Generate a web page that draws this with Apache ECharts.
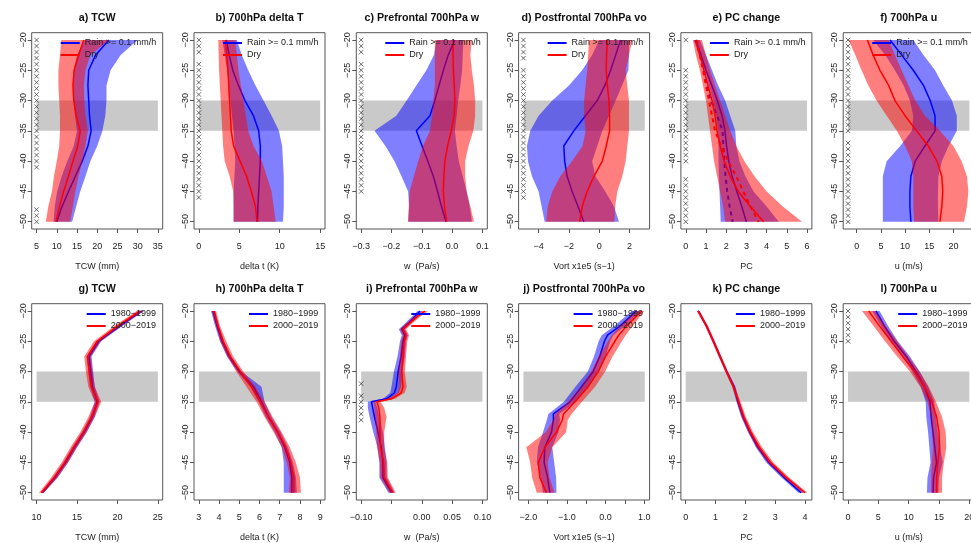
<!DOCTYPE html>
<html>
<head>
<meta charset="utf-8">
<script src="https://cdn.jsdelivr.net/npm/echarts@6/dist/echarts.min.js"></script>
<style>html,body{margin:0;padding:0;background:#fff}#main{width:971px;height:543px}</style>
</head>
<body>
<div id="main"></div>
<script>
// latitude levels (y axis)
const LAT = [-20, -22.5, -25, -27.5, -30, -32.5, -35, -37.5, -40, -42.5, -45, -47.5, -50];
const LAT_I = [-20, -21, -22, -23, -24, -25, -27.5, -30, -32.5, -33.5, -34.5, -35, -36, -37.5, -40, -42.5, -45, -47.5, -50];
const LAT_J = [-20, -22.5, -24, -25, -27.5, -30, -32.5, -35, -37, -38, -40, -42.5, -45, -47.5, -50];
const Y_TICKS = [-20, -25, -30, -35, -40, -45, -50];
const SHADE = [-30, -35];

const TOP_NAMES = ["Rain >= 0.1 mm/h", "Dry"];
const BOTTOM_NAMES = ["1980\u22121999", "2000\u22122019"];

// a) TCW
const A_RAIN = [22.9, 19.6, 17.9, 17.7, 17.9, 18.1, 18.5, 17.7, 16.3, 14.6, 12.9, 11.3, 10.0];
const A_RAIN_LO = [17.0, 15.0, 14.2, 14.0, 14.2, 14.5, 15.0, 14.2, 12.6, 11.2, 10.1, 9.5, 9.2];
const A_RAIN_HI = [30.0, 25.8, 23.3, 22.3, 22.3, 22.0, 21.3, 20.0, 18.3, 17.1, 15.8, 14.8, 13.8];
const A_DRY = [16.7, 15.4, 14.3, 14.0, 14.2, 14.8, 15.8, 15.2, 14.0, 12.9, 11.7, 10.7, 9.8];
const A_DRY_LO = [11.1, 10.8, 10.4, 10.4, 10.6, 10.8, 10.8, 10.6, 10.0, 9.3, 8.8, 7.9, 7.3];
const A_DRY_HI = [23.0, 18.3, 17.1, 16.7, 16.8, 17.1, 17.7, 17.1, 16.3, 15.4, 14.6, 14.0, 13.3];
const A_MARKS = [[-20, -41], [-48, -50]];

// b) 700hPa delta T
const B_RAIN = [3.4, 3.75, 4.2, 4.9, 5.7, 6.75, 7.4, 7.6, 7.6, 7.5, 7.4, 7.3, 7.25];
const B_RAIN_LO = [2.9, 3.2, 3.5, 3.7, 3.9, 4.1, 4.3, 4.4, 4.5, 4.4, 4.3, 4.3, 4.3];
const B_RAIN_HI = [4.7, 5.3, 6.1, 7.0, 8.0, 9.0, 9.9, 10.3, 10.4, 10.5, 10.5, 10.5, 10.4];
const B_DRY = [3.3, 3.45, 3.6, 3.7, 3.8, 3.9, 4.0, 4.3, 5.1, 5.9, 6.5, 7.0, 7.2];
const B_DRY_LO = [2.4, 2.45, 2.5, 2.6, 2.7, 2.8, 2.9, 3.0, 3.2, 3.8, 4.25, 4.3, 4.3];
const B_DRY_HI = [4.5, 4.7, 4.9, 5.2, 5.5, 5.8, 6.1, 6.75, 7.8, 8.4, 9.0, 9.25, 9.5];
const B_MARKS = [[-20, -22], [-24, -46]];

// c) Prefrontal 700hPa w
const C_RAIN = [0.009, -0.013, -0.029, -0.043, -0.057, -0.073, -0.118, -0.099, -0.080, -0.062, -0.048, -0.035, -0.020];
const C_RAIN_LO = [-0.051, -0.060, -0.085, -0.118, -0.150, -0.184, -0.256, -0.220, -0.190, -0.167, -0.145, -0.142, -0.145];
const C_RAIN_HI = [0.037, 0.035, 0.033, 0.027, 0.020, 0.015, 0.009, 0.015, 0.022, 0.035, 0.048, 0.058, 0.065];
const C_DRY = [0.004, 0.003, 0.004, 0.007, 0.009, 0.007, -0.003, -0.015, -0.024, -0.027, -0.029, -0.025, -0.018];
const C_DRY_LO = [-0.057, -0.057, -0.057, -0.057, -0.062, -0.066, -0.073, -0.096, -0.112, -0.126, -0.140, -0.143, -0.145];
const C_DRY_HI = [0.065, 0.060, 0.065, 0.072, 0.076, 0.076, 0.070, 0.054, 0.043, 0.043, 0.048, 0.060, 0.072];
const C_MARKS = [[-20, -22], [-24, -45]];

// d) Postfrontal 700hPa vo
const D_RAIN = [1.41, 1.08, 0.75, 0.37, -0.13, -0.91, -1.68, -2.34, -2.28, -2.12, -1.79, -1.40, -1.02];
const D_RAIN_LO = [0.0, -0.47, -1.13, -2.0, -3.1, -4.0, -4.55, -4.77, -4.7, -4.44, -4.0, -3.8, -3.6];
const D_RAIN_HI = [1.96, 1.96, 1.92, 1.5, 1.08, 0.64, 0.2, -0.13, -0.47, -0.25, 0.4, 0.97, 1.3];
const D_DRY = [0.53, 0.48, 0.46, 0.53, 0.64, 0.68, 0.68, 0.46, 0.2, -0.35, -0.8, -1.13, -1.29];
const D_DRY_LO = [-0.69, -0.73, -0.8, -0.9, -1.0, -1.0, -0.9, -1.1, -1.8, -2.57, -3.1, -3.4, -3.5];
const D_DRY_HI = [2.18, 1.96, 1.74, 1.85, 1.96, 1.96, 1.96, 1.85, 1.74, 1.52, 1.19, 1.05, 1.0];
const D_MARKS = [[-20, -23], [-25, -46]];

// e) PC change
const E_RAIN = [0.48, 0.76, 1.0, 1.29, 1.56, 1.8, 1.94, 2.02, 2.13, 2.29, 2.53, 2.77, 3.0];
const E_RAIN_MED = [0.5, 0.7, 0.9, 1.05, 1.25, 1.55, 1.82, 1.86, 1.9, 1.97, 2.05, 2.17, 2.32];
const E_RAIN_LO = [0.4, 0.65, 0.95, 1.15, 1.35, 1.5, 1.6, 1.62, 1.62, 1.64, 1.67, 1.7, 1.73];
const E_RAIN_HI = [0.7, 1.0, 1.3, 1.6, 1.95, 2.2, 2.45, 2.5, 2.65, 2.95, 3.35, 4.0, 4.6];
const E_DRY = [0.5, 0.7, 0.9, 1.1, 1.3, 1.45, 1.55, 1.7, 1.9, 2.2, 2.6, 3.2, 3.85];
const E_DRY_MED = [0.55, 0.7, 0.85, 1.0, 1.15, 1.3, 1.45, 1.75, 2.1, 2.5, 2.85, 3.2, 3.6];
const E_DRY_LO = [0.35, 0.5, 0.7, 0.85, 1.0, 1.1, 1.2, 1.3, 1.4, 1.55, 1.7, 1.85, 1.95];
const E_DRY_HI = [0.8, 1.0, 1.2, 1.45, 1.7, 1.95, 2.2, 2.5, 2.9, 3.4, 4.0, 4.8, 5.75];
const E_MARKS = [[-20, -20], [-25, -40], [-43, -50]];

// f) 700hPa u
const F_RAIN = [6.9, 9.3, 11.7, 13.8, 15.2, 16.2, 16.2, 14.1, 12.1, 11.2, 11.0, 11.0, 11.2];
const F_RAIN_LO = [3.4, 5.9, 7.9, 9.7, 11.0, 11.7, 11.4, 9.0, 6.2, 5.4, 5.4, 5.4, 5.4];
const F_RAIN_HI = [11.7, 13.8, 16.2, 17.9, 19.7, 20.7, 20.7, 19.0, 17.6, 16.9, 16.8, 16.8, 16.9];
const F_DRY = [2.2, 3.4, 4.8, 6.6, 7.9, 10.0, 12.4, 14.8, 16.6, 17.6, 17.8, 17.6, 17.2];
const F_DRY_LO = [-1.7, -0.3, 1.0, 2.4, 4.1, 6.2, 8.3, 10.0, 11.4, 11.7, 11.7, 11.7, 11.9];
const F_DRY_HI = [6.6, 7.9, 9.3, 10.7, 12.1, 14.1, 17.2, 20.0, 21.7, 22.8, 23.1, 22.8, 22.2];
const F_MARKS = [[-20, -35], [-37, -50]];

// g) TCW by period
const G_OLD = [23.0, 20.3, 17.7, 16.5, 16.7, 16.9, 17.5, 16.9, 15.9, 14.7, 13.6, 12.3, 10.7];
const G_OLD_LO = [22.7, 20.0, 17.4, 16.2, 16.4, 16.6, 17.2, 16.6, 15.6, 14.4, 13.3, 12.0, 10.5];
const G_OLD_HI = [23.3, 20.6, 18.0, 16.8, 17.0, 17.2, 17.8, 17.2, 16.2, 15.0, 13.9, 12.6, 10.9];
const G_NEW = [22.8, 20.0, 17.5, 16.3, 16.5, 16.8, 17.6, 16.8, 15.8, 14.6, 13.5, 12.2, 10.6];
const G_NEW_LO = [22.4, 19.6, 17.1, 15.9, 16.1, 16.4, 17.2, 16.4, 15.4, 14.2, 13.1, 11.8, 10.3];
const G_NEW_HI = [23.2, 20.4, 17.9, 16.7, 16.9, 17.2, 18.0, 17.2, 16.2, 15.0, 13.9, 12.6, 10.9];

// h) 700hPa delta T by period
const H_OLD = [3.7, 3.9, 4.15, 4.5, 5.0, 5.7, 6.1, 6.45, 6.9, 7.25, 7.5, 7.6, 7.6];
const H_OLD_LO = [3.6, 3.8, 4.05, 4.4, 4.9, 5.55, 5.95, 6.3, 6.75, 7.1, 7.2, 7.2, 7.2];
const H_OLD_HI = [3.8, 4.0, 4.25, 4.6, 5.1, 6.1, 6.25, 6.6, 7.05, 7.4, 7.65, 7.8, 7.85];
const H_NEW = [3.75, 3.95, 4.2, 4.55, 5.05, 5.6, 6.05, 6.45, 6.9, 7.3, 7.55, 7.7, 7.7];
const H_NEW_LO = [3.65, 3.85, 4.05, 4.4, 4.85, 5.35, 5.85, 6.25, 6.7, 7.1, 7.35, 7.5, 7.45];
const H_NEW_HI = [3.85, 4.05, 4.35, 4.7, 5.2, 5.8, 6.25, 6.65, 7.1, 7.5, 7.8, 8.0, 8.05];

// i) Prefrontal 700hPa w by period
const I_OLD = [-0.003, -0.012, -0.022, -0.033, -0.028, -0.031, -0.034, -0.039, -0.042, -0.045, -0.058, -0.083, -0.081, -0.078, -0.072, -0.067, -0.064, -0.064, -0.050];
const I_OLD_LO = [-0.007, -0.017, -0.027, -0.038, -0.033, -0.036, -0.040, -0.046, -0.050, -0.052, -0.064, -0.089, -0.089, -0.086, -0.080, -0.073, -0.070, -0.070, -0.055];
const I_OLD_HI = [0.001, -0.007, -0.017, -0.028, -0.023, -0.026, -0.028, -0.032, -0.034, -0.038, -0.052, -0.077, -0.073, -0.070, -0.064, -0.061, -0.058, -0.058, -0.045];
const I_NEW = [0.005, -0.008, -0.020, -0.031, -0.026, -0.029, -0.031, -0.033, -0.031, -0.034, -0.050, -0.074, -0.071, -0.069, -0.069, -0.068, -0.063, -0.062, -0.048];
const I_NEW_LO = [0.000, -0.013, -0.025, -0.036, -0.031, -0.034, -0.036, -0.038, -0.037, -0.040, -0.056, -0.080, -0.078, -0.077, -0.075, -0.074, -0.069, -0.068, -0.053];
const I_NEW_HI = [0.010, -0.003, -0.015, -0.026, -0.021, -0.024, -0.026, -0.028, -0.025, -0.028, -0.044, -0.068, -0.062, -0.058, -0.062, -0.062, -0.057, -0.056, -0.043];
const I_MARKS = [[-32, -32], [-34, -38]];

// j) Postfrontal 700hPa vo by period
const J_OLD = [0.80, 0.37, 0.05, -0.03, -0.15, -0.32, -0.62, -0.92, -1.35, -1.35, -1.40, -1.57, -1.59, -1.50, -1.44];
const J_OLD_LO = [0.68, 0.22, -0.10, -0.18, -0.30, -0.46, -0.78, -1.08, -1.48, -1.52, -1.62, -1.75, -1.78, -1.68, -1.62];
const J_OLD_HI = [0.90, 0.50, 0.20, 0.12, 0.00, -0.18, -0.46, -0.76, -1.20, -1.18, -1.22, -1.38, -1.33, -1.28, -1.27];
const J_NEW = [0.93, 0.54, 0.34, 0.24, 0.00, -0.19, -0.45, -0.79, -1.09, -1.12, -1.27, -1.57, -1.74, -1.70, -1.53];
const J_NEW_LO = [0.80, 0.38, 0.16, 0.06, -0.18, -0.37, -0.63, -0.97, -1.30, -1.35, -1.55, -2.05, -1.95, -1.90, -1.78];
const J_NEW_HI = [1.00, 0.70, 0.52, 0.42, 0.18, -0.01, -0.27, -0.61, -0.88, -0.98, -1.02, -1.38, -1.50, -1.45, -1.32];

// k) PC change by period
const K_OLD = [0.42, 0.70, 0.93, 1.15, 1.37, 1.62, 1.75, 1.92, 2.15, 2.42, 2.78, 3.30, 3.87];
const K_OLD_LO = [0.38, 0.66, 0.89, 1.11, 1.33, 1.57, 1.70, 1.86, 2.09, 2.35, 2.70, 3.21, 3.78];
const K_OLD_HI = [0.46, 0.74, 0.97, 1.19, 1.41, 1.67, 1.80, 1.98, 2.21, 2.49, 2.86, 3.39, 3.96];
const K_NEW = [0.42, 0.70, 0.93, 1.15, 1.37, 1.60, 1.78, 1.95, 2.18, 2.47, 2.85, 3.38, 4.00];
const K_NEW_LO = [0.37, 0.65, 0.88, 1.10, 1.32, 1.55, 1.72, 1.88, 2.10, 2.38, 2.76, 3.29, 3.92];
const K_NEW_HI = [0.47, 0.75, 0.98, 1.20, 1.42, 1.65, 1.84, 2.02, 2.26, 2.56, 2.94, 3.47, 4.08];

// l) 700hPa u by period
const L_OLD = [4.6, 6.0, 7.6, 9.6, 11.2, 12.6, 13.5, 13.7, 14.0, 14.3, 14.6, 14.1, 14.0];
const L_OLD_LO = [4.0, 5.4, 7.0, 9.0, 10.6, 12.0, 12.8, 12.9, 13.2, 13.4, 13.6, 13.1, 13.0];
const L_OLD_HI = [5.2, 6.6, 8.2, 10.2, 11.8, 13.2, 14.2, 14.5, 14.8, 15.2, 15.6, 15.0, 14.9];
const L_NEW = [3.4, 5.2, 7.1, 9.0, 11.0, 12.6, 13.8, 14.6, 15.0, 15.1, 14.8, 14.6, 14.6];
const L_NEW_LO = [2.3, 4.2, 6.1, 8.1, 10.2, 11.9, 13.1, 13.7, 13.9, 14.0, 13.8, 13.7, 13.7];
const L_NEW_HI = [4.5, 6.2, 8.1, 9.9, 11.8, 13.3, 14.5, 15.5, 16.1, 16.2, 15.8, 15.5, 15.5];
const L_MARKS = [[-20, -25]];

const panels = [
    { title: "a) TCW", xname: "TCW (mm)", box: [3.8, 36.2], xlim: [5, 35], ticks: [5, 10, 15, 20, 25, 30, 35], dec: 0, lat: LAT, names: TOP_NAMES,
      s1: { mean: A_RAIN, lo: A_RAIN_LO, hi: A_RAIN_HI }, s2: { mean: A_DRY, lo: A_DRY_LO, hi: A_DRY_HI }, marks: A_MARKS },
    { title: "b) 700hPa delta T", xname: "delta t (K)", box: [-0.6, 15.6], xlim: [0, 15], ticks: [0, 5, 10, 15], dec: 0, lat: LAT, names: TOP_NAMES,
      s1: { mean: B_RAIN, lo: B_RAIN_LO, hi: B_RAIN_HI }, s2: { mean: B_DRY, lo: B_DRY_LO, hi: B_DRY_HI }, marks: B_MARKS },
    { title: "c) Prefrontal 700hPa w", xname: "w  (Pa/s)", box: [-0.316, 0.116], xlim: [-0.3, 0.1], ticks: [-0.3, -0.2, -0.1, 0, 0.1], dec: 1, lat: LAT, names: TOP_NAMES,
      s1: { mean: C_RAIN, lo: C_RAIN_LO, hi: C_RAIN_HI }, s2: { mean: C_DRY, lo: C_DRY_LO, hi: C_DRY_HI }, marks: C_MARKS },
    { title: "d) Postfrontal 700hPa vo", xname: "Vort x1e5 (s\u22121)", box: [-5.32, 3.32], xlim: [-5, 3], ticks: [-4, -2, 0, 2], dec: 0, lat: LAT, names: TOP_NAMES,
      s1: { mean: D_RAIN, lo: D_RAIN_LO, hi: D_RAIN_HI }, s2: { mean: D_DRY, lo: D_DRY_LO, hi: D_DRY_HI }, marks: D_MARKS },
    { title: "e) PC change", xname: "PC", box: [-0.24, 6.24], xlim: [0, 6], ticks: [0, 1, 2, 3, 4, 5, 6], dec: 0, lat: LAT, names: TOP_NAMES,
      s1: { mean: E_RAIN, lo: E_RAIN_LO, hi: E_RAIN_HI, med: E_RAIN_MED }, s2: { mean: E_DRY, lo: E_DRY_LO, hi: E_DRY_HI, med: E_DRY_MED }, marks: E_MARKS },
    { title: "f) 700hPa u", xname: "u (m/s)", box: [-2.8, 24.3], xlim: [-1.8, 23.3], ticks: [0, 5, 10, 15, 20], dec: 0, lat: LAT, names: TOP_NAMES,
      s1: { mean: F_RAIN, lo: F_RAIN_LO, hi: F_RAIN_HI }, s2: { mean: F_DRY, lo: F_DRY_LO, hi: F_DRY_HI }, marks: F_MARKS },
    { title: "g) TCW", xname: "TCW (mm)", box: [9.4, 25.6], xlim: [10, 25], ticks: [10, 15, 20, 25], dec: 0, lat: LAT, names: BOTTOM_NAMES,
      s1: { mean: G_OLD, lo: G_OLD_LO, hi: G_OLD_HI }, s2: { mean: G_NEW, lo: G_NEW_LO, hi: G_NEW_HI }, marks: [] },
    { title: "h) 700hPa delta T", xname: "delta t (K)", box: [2.76, 9.24], xlim: [3, 9], ticks: [3, 4, 5, 6, 7, 8, 9], dec: 0, lat: LAT, names: BOTTOM_NAMES,
      s1: { mean: H_OLD, lo: H_OLD_LO, hi: H_OLD_HI }, s2: { mean: H_NEW, lo: H_NEW_LO, hi: H_NEW_HI }, marks: [] },
    { title: "i) Prefrontal 700hPa w", xname: "w  (Pa/s)", box: [-0.108, 0.108], xlim: [-0.1, 0.1], ticks: [-0.1, -0.05, 0, 0.05, 0.1], labels: [-0.1, 0, 0.05, 0.1], dec: 2, lat: LAT_I, names: BOTTOM_NAMES,
      s1: { mean: I_OLD, lo: I_OLD_LO, hi: I_OLD_HI }, s2: { mean: I_NEW, lo: I_NEW_LO, hi: I_NEW_HI }, marks: I_MARKS },
    { title: "j) Postfrontal 700hPa vo", xname: "Vort x1e5 (s\u22121)", box: [-2.25, 1.138], xlim: [-2.125, 1.013], ticks: [-2, -1.5, -1, -0.5, 0, 0.5, 1], labels: [-2, -1, 0, 1], dec: 1, lat: LAT_J, names: BOTTOM_NAMES,
      s1: { mean: J_OLD, lo: J_OLD_LO, hi: J_OLD_HI }, s2: { mean: J_NEW, lo: J_NEW_LO, hi: J_NEW_HI }, marks: [] },
    { title: "k) PC change", xname: "PC", box: [-0.16, 4.23], xlim: [0, 4.07], ticks: [0, 1, 2, 3, 4], dec: 0, lat: LAT, names: BOTTOM_NAMES,
      s1: { mean: K_OLD, lo: K_OLD_LO, hi: K_OLD_HI }, s2: { mean: K_NEW, lo: K_NEW_LO, hi: K_NEW_HI }, marks: [] },
    { title: "l) 700hPa u", xname: "u (m/s)", box: [-0.8, 20.8], xlim: [0, 20], ticks: [0, 5, 10, 15, 20], dec: 0, lat: LAT, names: BOTTOM_NAMES,
      s1: { mean: L_OLD, lo: L_OLD_LO, hi: L_OLD_HI }, s2: { mean: L_NEW, lo: L_NEW_LO, hi: L_NEW_HI }, marks: L_MARKS }
];

const FONT = '"Liberation Sans", Arial, Helvetica, sans-serif';
const BLUE = "#0000ff", RED = "#ff0000";
const BLUE_FILL = "rgba(0,0,255,0.5)", RED_FILL = "rgba(255,0,0,0.5)";
const minus = s => String(s).replace("-", "\u2212");

const bandSeries = (k, lo, hi, lat, fill, z) => ({
    type: "custom", xAxisIndex: k, yAxisIndex: k, z: z, silent: true, clip: false,
    data: lat.map((y, i) => [lo[i], hi[i], y]),
    renderItem: (params, api) => {
        if (params.dataIndex !== 0) return null;
        const pts = lat.map((y, i) => api.coord([lo[i], y]));
        for (let i = lat.length - 1; i >= 0; i--) pts.push(api.coord([hi[i], lat[i]]));
        return { type: "polygon", shape: { points: pts }, style: { fill: fill } };
    }
});

const lineSeries = (k, name, xs, lat, color, z, dash, width) => ({
    type: "line", name: name, xAxisIndex: k, yAxisIndex: k, z: z, silent: true,
    showSymbol: false, symbol: "none", color: color,
    data: lat.map((y, i) => [xs[i], y]),
    itemStyle: { color: color },
    lineStyle: { color: color, width: width || 1.5, type: dash || "solid" }
});

const grids = [], xAxes = [], yAxes = [], series = [], titles = [], legends = [];

panels.forEach((p, k) => {
    const row = k < 6 ? 0 : 1, col = k % 6;
    const left = 31.7 + 162.3 * col;
    const top = row ? 303.7 : 32.7;

    grids.push({ left: left, top: top, width: 131, height: 196.3, show: true, borderColor: "#555", borderWidth: 1,
                 backgroundColor: "transparent", containLabel: false, outerBoundsMode: "none" });

    xAxes.push({
        type: "value", gridIndex: k, min: p.box[0], max: p.box[1],
        name: p.xname, nameLocation: "middle", nameGap: 33,
        nameTextStyle: { fontSize: 9, color: "#222", fontFamily: FONT },
        axisLine: { show: false, onZero: false }, splitLine: { show: false },
        axisTick: { show: true, length: 4, lineStyle: { color: "#555" }, customValues: p.ticks },
        axisLabel: { fontSize: 9, color: "#222", fontFamily: FONT, margin: 13, customValues: p.labels || p.ticks,
                     formatter: v => minus(Number(v).toFixed(p.dec)) }
    });

    yAxes.push({
        type: "value", gridIndex: k, min: -51.2, max: -18.8,
        axisLine: { show: false, onZero: false }, splitLine: { show: false },
        axisTick: { show: true, length: 4, lineStyle: { color: "#555" }, customValues: Y_TICKS },
        axisLabel: { fontSize: 9, color: "#222", fontFamily: FONT, rotate: 90, margin: 4, customValues: Y_TICKS,
                     formatter: v => minus(v) }
    });

    // grey latitude band
    series.push({
        type: "custom", xAxisIndex: k, yAxisIndex: k, z: 1, silent: true,
        data: [[p.xlim[0], p.xlim[1]]],
        renderItem: (params, api) => {
            const a = api.coord([api.value(0), SHADE[0]]);
            const b = api.coord([api.value(1), SHADE[1]]);
            return { type: "rect", shape: { x: a[0], y: a[1], width: b[0] - a[0], height: b[1] - a[1] }, style: { fill: "#c9c9c9" } };
        }
    });

    series.push(bandSeries(k, p.s1.lo, p.s1.hi, p.lat, BLUE_FILL, 2));
    series.push(lineSeries(k, p.names[0], p.s1.mean, p.lat, BLUE, 3));
    if (p.s1.med) series.push(lineSeries(k, "rain median", p.s1.med, p.lat, BLUE, 3, [4, 4], 2));
    series.push(bandSeries(k, p.s2.lo, p.s2.hi, p.lat, RED_FILL, 4));
    series.push(lineSeries(k, p.names[1], p.s2.mean, p.lat, RED, 5));
    if (p.s2.med) series.push(lineSeries(k, "dry median", p.s2.med, p.lat, RED, 5, [4, 4], 2));

    const marks = [];
    p.marks.forEach(r => { for (let y = r[0]; y >= r[1]; y--) marks.push([p.xlim[0], y]); });
    if (marks.length) {
        series.push({
            type: "scatter", xAxisIndex: k, yAxisIndex: k, z: 6, silent: true,
            symbol: "path://M0 0L10 10M10 0L0 10", symbolSize: 4.5,
            itemStyle: { color: "transparent", borderColor: "#333", borderWidth: 0.9 },
            data: marks
        });
    }

    titles.push({ text: p.title, left: left + 65.5, top: row ? 284 : 13, textAlign: "center", padding: 0,
                  textStyle: { fontSize: 10.7, fontWeight: "bold", color: "#111", fontFamily: FONT } });

    legends.push({
        left: left + (row ? 55 : 29), top: row ? 309 : 38, orient: "vertical", padding: 0,
        itemWidth: 19, itemHeight: 2, itemGap: 2, icon: "rect", selectedMode: false, z: 10,
        textStyle: { fontSize: 9, color: "#222", fontFamily: FONT, lineHeight: 10 },
        data: p.names
    });
});

const chart = echarts.init(document.getElementById("main"));
chart.setOption({
    animation: false,
    backgroundColor: "#fff",
    textStyle: { fontFamily: FONT },
    title: titles,
    legend: legends,
    grid: grids,
    xAxis: xAxes,
    yAxis: yAxes,
    series: series
});
</script>
</body>
</html>
